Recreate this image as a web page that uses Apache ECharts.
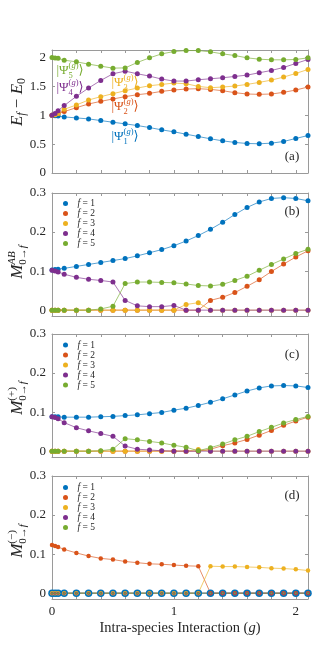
<!DOCTYPE html>
<html><head><meta charset="utf-8">
<script src="https://cdn.jsdelivr.net/npm/echarts@6/dist/echarts.min.js"></script>
<style>html,body{margin:0;padding:0;background:#fff}#c{width:314px;height:667px}</style>
</head><body><div id="c"></div>
<script>
// ---------------- data ----------------
const gValues = [0, 0.025, 0.05, 0.1, 0.2, 0.3, 0.4, 0.5, 0.6, 0.7, 0.8, 0.9, 1.0, 1.1, 1.2, 1.3, 1.4, 1.5, 1.6, 1.7, 1.8, 1.9, 2.0, 2.1];

// panel (a): E_f - E_0
const aPsi1 = [1.00, 0.99, 0.985, 0.971, 0.954, 0.937, 0.908, 0.879, 0.851, 0.822, 0.787, 0.747, 0.713, 0.672, 0.632, 0.592, 0.557, 0.529, 0.511, 0.506, 0.517, 0.546, 0.598, 0.649];
const aPsi2 = [1.00, 1.01, 1.03, 1.063, 1.132, 1.195, 1.241, 1.282, 1.322, 1.356, 1.379, 1.414, 1.437, 1.454, 1.46, 1.448, 1.425, 1.391, 1.368, 1.362, 1.368, 1.397, 1.437, 1.489];
const aPsi3 = [1.00, 1.01, 1.03, 1.103, 1.178, 1.264, 1.322, 1.374, 1.425, 1.471, 1.511, 1.534, 1.557, 1.546, 1.50, 1.477, 1.489, 1.506, 1.534, 1.569, 1.609, 1.661, 1.724, 1.793];
const aPsi4 = [1.00, 1.03, 1.08, 1.167, 1.328, 1.471, 1.603, 1.718, 1.764, 1.718, 1.678, 1.626, 1.592, 1.592, 1.615, 1.632, 1.649, 1.672, 1.695, 1.736, 1.776, 1.828, 1.897, 1.966];
const aPsi5 = [2.00, 1.99, 1.985, 1.954, 1.925, 1.885, 1.85, 1.816, 1.82, 1.914, 1.994, 2.063, 2.103, 2.12, 2.12, 2.098, 2.063, 2.034, 1.994, 1.971, 1.96, 1.96, 1.966, 1.994];

// panel (b): M^AB
const bF1 = [0.103, 0.104, 0.105, 0.107, 0.112, 0.117, 0.122, 0.127, 0.132, 0.139, 0.147, 0.155, 0.165, 0.177, 0.191, 0.207, 0.225, 0.245, 0.263, 0.277, 0.286, 0.288, 0.286, 0.280];
const bF2 = [0, 0, 0, 0, 0, 0, 0, 0, 0, 0, 0, 0, 0, 0, 0, 0.025, 0.033, 0.045, 0.061, 0.078, 0.099, 0.118, 0.136, 0.152];
const bF3 = [0, 0, 0, 0, 0, 0, 0, 0, 0, 0, 0, 0, 0, 0.0145, 0.019, 0, 0, 0, 0, 0, 0, 0, 0, 0];
const bF4 = [0.102, 0.100, 0.098, 0.092, 0.084, 0.079, 0.076, 0.072, 0.025, 0.011, 0.009, 0.009, 0.012, 0, 0, 0, 0, 0, 0, 0, 0, 0, 0, 0];
const bF5 = [0, 0, 0, 0, 0, 0, 0.003, 0.010, 0.068, 0.072, 0.072, 0.071, 0.070, 0.067, 0.063, 0.062, 0.066, 0.076, 0.087, 0.102, 0.117, 0.131, 0.145, 0.156];

// panel (c): M^(+)
const cF1 = [0.088, 0.088, 0.088, 0.087, 0.087, 0.087, 0.088, 0.089, 0.091, 0.093, 0.096, 0.099, 0.105, 0.110, 0.117, 0.125, 0.134, 0.144, 0.154, 0.162, 0.167, 0.168, 0.167, 0.163];
const cF2 = [0, 0, 0, 0, 0, 0, 0, 0, 0, 0, 0, 0, 0, 0, 0, 0.005, 0.014, 0.021, 0.030, 0.041, 0.053, 0.066, 0.077, 0.087];
const cF3 = [0, 0, 0, 0, 0, 0, 0, 0, 0, 0, 0, 0, 0, 0, 0.004, 0, 0, 0, 0, 0, 0, 0, 0, 0];
const cF4 = [0.088, 0.086, 0.083, 0.073, 0.060, 0.052, 0.045, 0.038, 0.013, 0.005, 0.003, 0.001, 0, 0, 0, 0, 0, 0, 0, 0, 0, 0, 0, 0];
const cF5 = [0, 0, 0, 0, 0, 0, 0.001, 0.005, 0.032, 0.029, 0.025, 0.021, 0.015, 0.010, 0.001, 0.009, 0.018, 0.029, 0.038, 0.050, 0.061, 0.072, 0.081, 0.089];

// panel (d): M^(-)
const dF1 = [0, 0, 0, 0, 0, 0, 0, 0, 0, 0, 0, 0, 0, 0, 0, 0, 0, 0, 0, 0, 0, 0, 0, 0];
const dF2 = [0.123, 0.121, 0.118, 0.112, 0.103, 0.095, 0.089, 0.086, 0.081, 0.078, 0.075, 0.074, 0.072, 0.070, 0.069, 0, 0, 0, 0, 0, 0, 0, 0, 0];
const dF3 = [0, 0, 0, 0, 0, 0, 0, 0, 0, 0, 0, 0, 0, 0, 0, 0.069, 0.068, 0.068, 0.067, 0.066, 0.064, 0.063, 0.061, 0.058];
const dF4 = [0, 0, 0, 0, 0, 0, 0, 0, 0, 0, 0, 0, 0, 0, 0, 0, 0, 0, 0, 0, 0, 0, 0, 0];
const dF5 = [0, 0, 0, 0, 0, 0, 0, 0, 0, 0, 0, 0, 0, 0, 0, 0, 0, 0, 0, 0, 0, 0, 0, 0];

const legendNames = ['f = 1', 'f = 2', 'f = 3', 'f = 4', 'f = 5'];
const xTickValues = [0, 0.2, 0.4, 0.6, 0.8, 1.0, 1.2, 1.4, 1.6, 1.8, 2.0];
const xTickLabels = [0, 1, 2];
const yTicksA = [0, 0.5, 1, 1.5, 2];
const yTicksM = [0, 0.1, 0.2, 0.3];

// ---------------- style ----------------
const COLORS = ['#0072BD', '#D95319', '#EDB120', '#7E2F8E', '#77AC30'];
const FONT = '"Liberation Serif","DejaVu Serif",serif';
const AXIS = '#9a9a9a';
const TXT = '#262626';
const GL = 52, GW = 256, GH = 123;
const gridTops = [50, 193, 334, 476];

const grids = gridTops.map(t => ({left: GL, top: t, width: GW, height: GH, containLabel: false}));

const xAxes = [], yAxes = [];
gridTops.forEach((t, i) => {
  ['bottom', 'top'].forEach(pos => {
    xAxes.push({
      type: 'value', gridIndex: i, position: pos, min: 0, max: 2.1,
      axisLine: {show: true, onZero: false, lineStyle: {color: AXIS, width: 1}},
      axisTick: {show: true, inside: true, length: 3, customValues: xTickValues, lineStyle: {color: AXIS}},
      axisLabel: {show: pos === 'bottom' && i === 3, customValues: xTickLabels, fontFamily: FONT, fontSize: 13, color: TXT, margin: 6},
      splitLine: {show: false}
    });
  });
  ['left', 'right'].forEach(pos => {
    const isA = i === 0;
    yAxes.push({
      type: 'value', gridIndex: i, position: pos,
      min: isA ? 0 : -0.015, max: isA ? 2.13 : 0.3,
      axisLine: {show: true, onZero: false, lineStyle: {color: AXIS, width: 1}},
      axisTick: {show: true, inside: true, length: 3, customValues: isA ? yTicksA : yTicksM, lineStyle: {color: AXIS}},
      axisLabel: {show: pos === 'left', customValues: isA ? yTicksA : yTicksM, fontFamily: FONT, fontSize: 13, color: TXT, margin: 6},
      splitLine: {show: false}
    });
  });
});

function mk(panel, name, values, color, size) {
  return {
    type: 'line', name: name, xAxisIndex: panel * 2, yAxisIndex: panel * 2,
    data: gValues.map((g, k) => [g, values[k]]),
    symbol: 'circle', symbolSize: size, showSymbol: true,
    itemStyle: {color: color},
    lineStyle: {color: color, width: 1, opacity: 0.65},
    emphasis: {disabled: true}, clip: false, animation: false, silent: true
  };
}

const series = [];
[aPsi1, aPsi2, aPsi3, aPsi4, aPsi5].forEach((d, k) => series.push(mk(0, 'psi' + (k + 1), d, COLORS[k], 5)));
[bF1, bF2, bF3, bF4, bF5].forEach((d, k) => series.push(mk(1, legendNames[k], d, COLORS[k], 5)));
[cF1, cF2, cF3, cF4, cF5].forEach((d, k) => series.push(mk(2, legendNames[k], d, COLORS[k], 5)));
const dSizes = [7.5, 4.5, 4.5, 3, 2];
[dF1, dF2, dF3, dF4, dF5].forEach((d, k) => series.push(mk(3, legendNames[k], d, COLORS[k], dSizes[k])));

function legendAt(top) {
  return {
    data: legendNames, orient: 'vertical', left: 63, top: top,
    icon: 'circle', itemWidth: 14, itemHeight: 5, itemGap: 0, symbolKeepAspect: true,
    selectedMode: false, padding: 0,
    formatter: n => '{i|f}' + n.slice(1),
    textStyle: {fontFamily: FONT, fontSize: 9.5, lineHeight: 10, color: TXT,
      rich: {i: {fontFamily: FONT, fontSize: 9.5, fontStyle: 'italic', color: TXT, lineHeight: 10}}}
  };
}

// ---------------- math-like text via graphic ----------------
const mctx = document.createElement('canvas').getContext('2d');
function tw(t, s, it) { mctx.font = (it ? 'italic ' : '') + s + 'px ' + FONT; return mctx.measureText(t).width; }
function place(tokens, color, kids, x0) {
  let x = x0;
  for (const tk of tokens) {
    if (tk.sup || tk.sub) {
      const e1 = tk.sup ? place(tk.sup, color, kids, x) : x;
      const e2 = tk.sub ? place(tk.sub, color, kids, x) : x;
      x = Math.max(e1, e2);
    } else {
      kids.push({type: 'text', x: x, y: tk.dy || 0, silent: true,
        style: {text: tk.t, fontSize: tk.s, fontStyle: tk.it ? 'italic' : 'normal', fontFamily: FONT,
          fill: color, align: 'left', verticalAlign: 'middle'}});
      x += tw(tk.t, tk.s, tk.it);
    }
  }
  return x;
}
function mathGroup(cx, cy, rot, color, tokens) {
  const kids = [];
  const W = place(tokens, color, kids, 0);
  kids.forEach(k => { k.x -= W / 2; });
  return {type: 'group', x: cx, y: cy, rotation: rot, children: kids, silent: true};
}
const R = Math.PI / 2;
function psiLabel(cx, cy, n, color) {
  return mathGroup(cx, cy, 0, color, [
    {t: '|Ψ', s: 13},
    {sup: [{t: '(', s: 8.5, dy: -5.5}, {t: 'g', s: 8.5, it: true, dy: -5.5}, {t: ')', s: 8.5, dy: -5.5}],
     sub: [{t: String(n), s: 8.5, dy: 4.5}]},
    {t: '⟩', s: 13}
  ]);
}
function mLabel(cy, supTxt) {
  return mathGroup(18, cy, R, TXT, [
    {t: 'M', s: 17, it: true},
    {sup: supTxt, sub: [{t: '0→', s: 11, dy: 5}, {t: 'f', s: 11, it: true, dy: 5}]}
  ]);
}

const graphics = [
  mathGroup(18, 102, R, TXT, [
    {t: 'E', s: 17, it: true}, {t: 'f', s: 12, it: true, dy: 4},
    {t: ' − ', s: 17},
    {t: 'E', s: 17, it: true}, {t: '0', s: 12, dy: 4}
  ]),
  mLabel(262, [{t: 'AB', s: 11, it: true, dy: -6}]),
  mLabel(398, [{t: '(+)', s: 11, dy: -6}]),
  mLabel(541, [{t: '(−)', s: 11, dy: -6}]),
  psiLabel(70, 71, 5, COLORS[4]),
  psiLabel(70, 88, 4, COLORS[3]),
  psiLabel(125, 83, 3, COLORS[2]),
  psiLabel(125, 107, 2, COLORS[1]),
  psiLabel(125, 137, 1, COLORS[0]),
  mathGroup(292, 157, 0, TXT, [{t: '(a)', s: 13}]),
  mathGroup(292, 212, 0, TXT, [{t: '(b)', s: 13}]),
  mathGroup(292, 354.5, 0, TXT, [{t: '(c)', s: 13}]),
  mathGroup(292, 496, 0, TXT, [{t: '(d)', s: 13}]),
  mathGroup(180, 628, 0, TXT, [{t: 'Intra-species Interaction (', s: 14.5}, {t: 'g', s: 14.5, it: true}, {t: ')', s: 14.5}])
];

const chart = echarts.init(document.getElementById('c'), null, {renderer: 'canvas'});
chart.setOption({
  animation: false,
  backgroundColor: '#fff',
  grid: grids,
  xAxis: xAxes,
  yAxis: yAxes,
  legend: [legendAt(198.5), legendAt(340), legendAt(482.5)],
  series: series,
  graphic: graphics
});
</script>
</body></html>
